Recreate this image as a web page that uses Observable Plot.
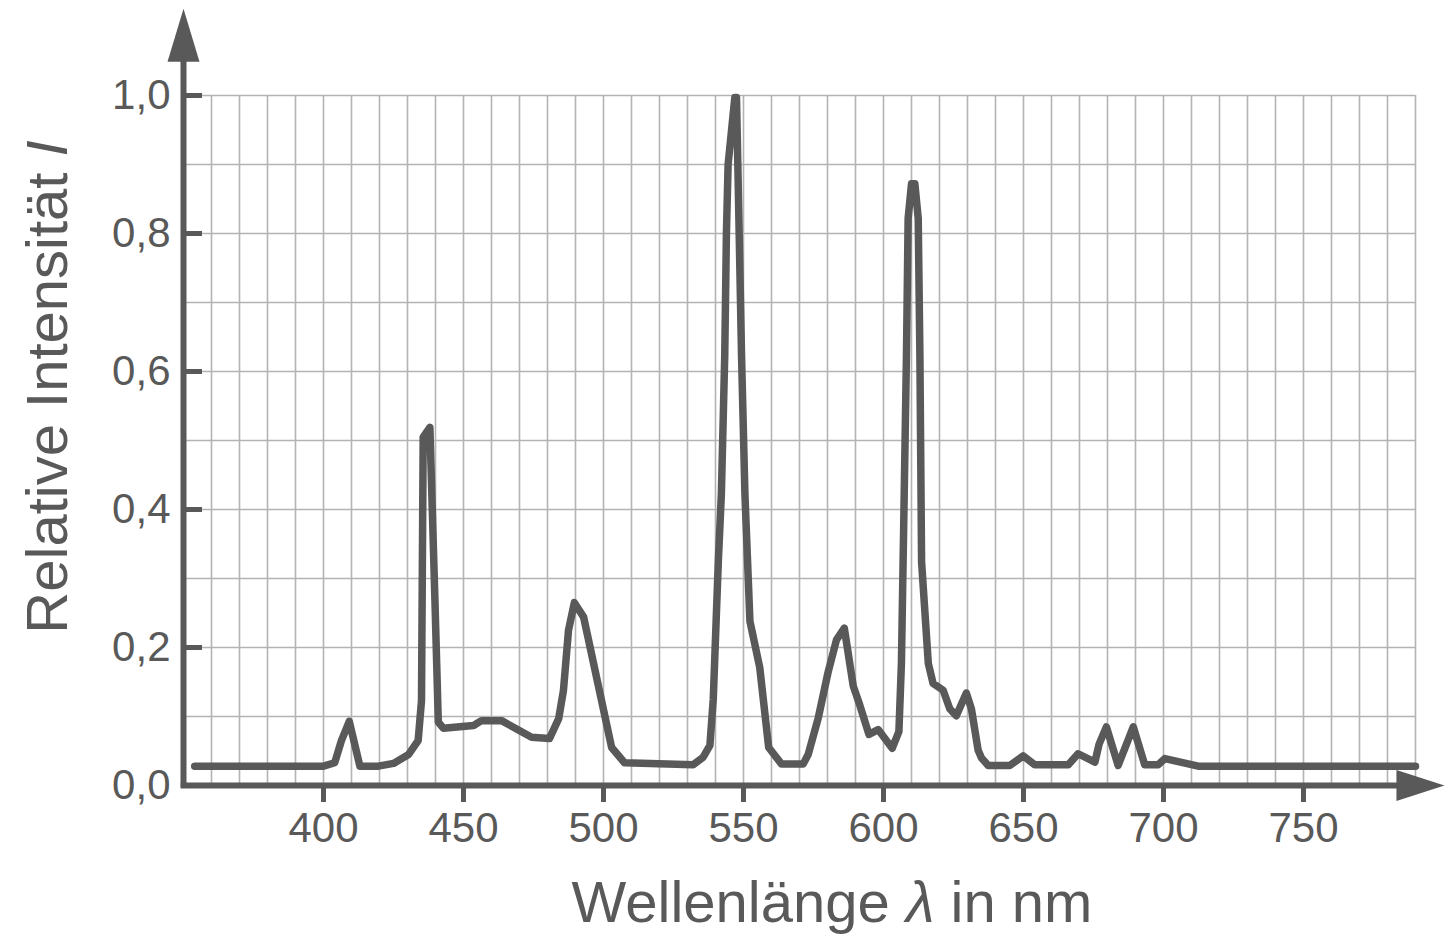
<!DOCTYPE html>
<html>
<head>
<meta charset="utf-8">
<script src="https://cdn.jsdelivr.net/npm/d3@7"></script>
<script src="https://cdn.jsdelivr.net/npm/@observablehq/plot@0.6"></script>
<style>
  html, body { margin: 0; padding: 0; background: #fff; }
  svg { display: block; }
</style>
</head>
<body>
<div id="chart"></div>
<script>
// Wavelength in nm (x) and relative intensity (y)
const wavelength = [
  354, 400, 404, 406.4, 409.2, 413, 419.6, 425, 430.4, 433.8, 435, 435.6, 438,
  439.8, 441, 442.8, 453.6, 456.4, 463.6, 474.3, 480.7, 484, 485.7, 487.5, 489.6,
  492.9, 502.9, 507.5, 532, 535.6, 538, 539.2, 541, 542.1, 543.3, 543.9, 544.5,
  546.9, 547.5, 548.1, 549.3, 550.5, 552.3, 555.8, 559, 563.6, 571.3, 573.1,
  576.7, 580.2, 583.2, 586, 589.2, 591.5, 594.8, 598.1, 603.1, 605.5, 606.4,
  607.4, 608.2, 608.8, 610, 611.2, 612.4, 613, 613.6, 616, 617.7, 621.3, 623.7,
  626, 629.6, 631.4, 633.8, 635, 637.4, 645.1, 649.9, 654, 666, 669.5, 675.5,
  677, 679.6, 683.8, 689.2, 693.3, 698.1, 700.5, 712.4, 790
];
const intensity = [
  0.028, 0.028, 0.033, 0.065, 0.093, 0.028, 0.028, 0.032, 0.045, 0.065, 0.123, 0.505, 0.519,
  0.268, 0.092, 0.083, 0.087, 0.094, 0.094, 0.070, 0.068, 0.097, 0.138, 0.225, 0.265,
  0.244, 0.055, 0.033, 0.030, 0.041, 0.058, 0.125, 0.324, 0.423, 0.623, 0.800, 0.900,
  0.997, 0.997, 0.875, 0.623, 0.423, 0.238, 0.171, 0.055, 0.031, 0.031, 0.045,
  0.098, 0.164, 0.211, 0.228, 0.144, 0.117, 0.074, 0.081, 0.054, 0.078, 0.177,
  0.423, 0.623, 0.822, 0.872, 0.872, 0.822, 0.623, 0.324, 0.177, 0.148, 0.138, 0.111,
  0.101, 0.134, 0.111, 0.051, 0.040, 0.029, 0.029, 0.043, 0.030, 0.030, 0.046, 0.034,
  0.060, 0.085, 0.029, 0.085, 0.030, 0.030, 0.039, 0.028, 0.028
];

const xTicks = [400, 450, 500, 550, 600, 650, 700, 750];
const yTicks = [0, 0.2, 0.4, 0.6, 0.8, 1.0];
const xGrid = [360, 370, 380, 390, 400, 410, 420, 430, 440, 450, 460, 470, 480, 490, 500,
  510, 520, 530, 540, 550, 560, 570, 580, 590, 600, 610, 620, 630, 640, 650, 660, 670,
  680, 690, 700, 710, 720, 730, 740, 750, 760, 770, 780, 790];
const yGrid = [0.1, 0.2, 0.3, 0.4, 0.5, 0.6, 0.7, 0.8, 0.9, 1.0];
const xTitle = ["Wellenlänge ", "λ", " in nm"];
const yTitle = ["Relative Intensität ", "I"];

const data = wavelength.map((w, i) => ({ w, v: intensity[i] }));

const ink = "#595959";
const gridColor = "#b3b3b3";
const font = "'Liberation Sans', Arial, Helvetica, sans-serif";
const W = 1450, H = 936, mL = 183, mR = 35, mT = 95, mB = 151;
const fmt = d => d.toFixed(1).replace(".", ",");

const upArrow = { draw(ctx) { ctx.moveTo(-16, 0); ctx.lineTo(16, 0); ctx.lineTo(0, -53); ctx.closePath(); } };
const rightArrow = { draw(ctx) { ctx.moveTo(0, -15.5); ctx.lineTo(0, 15.5); ctx.lineTo(48, 0); ctx.closePath(); } };

const chart = Plot.plot({
  width: W, height: H,
  marginLeft: mL, marginRight: mR, marginTop: mT, marginBottom: mB,
  x: { domain: [350, 790] },
  y: { domain: [0, 1] },
  style: { fontFamily: font, background: "#fff", color: ink, overflow: "visible" },
  marks: [
    Plot.gridX(xGrid, { stroke: gridColor, strokeOpacity: 1, strokeWidth: 1.6 }),
    Plot.gridY(yGrid, { stroke: gridColor, strokeOpacity: 1, strokeWidth: 1.6 }),
    Plot.axisX(xTicks, { tickSize: 17, tickPadding: 10, strokeWidth: 5, color: ink, fontSize: 42, label: null, tickFormat: d => String(d) }),
    Plot.axisY(yTicks, { tickSize: 0, tickPadding: 13, color: ink, fontSize: 42, label: null, tickFormat: fmt }),
    Plot.tickY(yTicks, { y: d => d, stroke: ink, strokeWidth: 5, insetRight: (W - mL - mR) - 19 }),
    Plot.ruleY([0], { x1: 349.2, x2: 785, stroke: ink, strokeWidth: 6 }),
    Plot.ruleX([350], { y1: -0.004, y2: 1.05, stroke: ink, strokeWidth: 6 }),
    Plot.dot([{ x: 350, y: 1.049 }], { x: "x", y: "y", symbol: upArrow, fill: ink, r: 5 }),
    Plot.dot([{ x: 783.2, y: 0 }], { x: "x", y: "y", symbol: rightArrow, fill: ink, r: 5 }),
    Plot.line(data, { x: "w", y: "v", stroke: ink, strokeWidth: 7.5, strokeLinejoin: "round", strokeLinecap: "round" })
  ]
});

document.getElementById("chart").appendChild(chart);

const svg = d3.select(chart);
const xt = svg.append("text")
  .attr("x", 832).attr("y", 922)
  .attr("text-anchor", "middle")
  .attr("font-family", font).attr("font-size", 58).attr("fill", ink);
xt.append("tspan").text(xTitle[0]);
xt.append("tspan").attr("font-style", "italic").text(xTitle[1]);
xt.append("tspan").text(xTitle[2]);

const yt = svg.append("text")
  .attr("transform", "translate(67,387) rotate(-90)")
  .attr("text-anchor", "middle")
  .attr("font-family", font).attr("font-size", 58).attr("fill", ink);
yt.append("tspan").text(yTitle[0]);
yt.append("tspan").attr("font-style", "italic").text(yTitle[1]);
</script>
</body>
</html>
